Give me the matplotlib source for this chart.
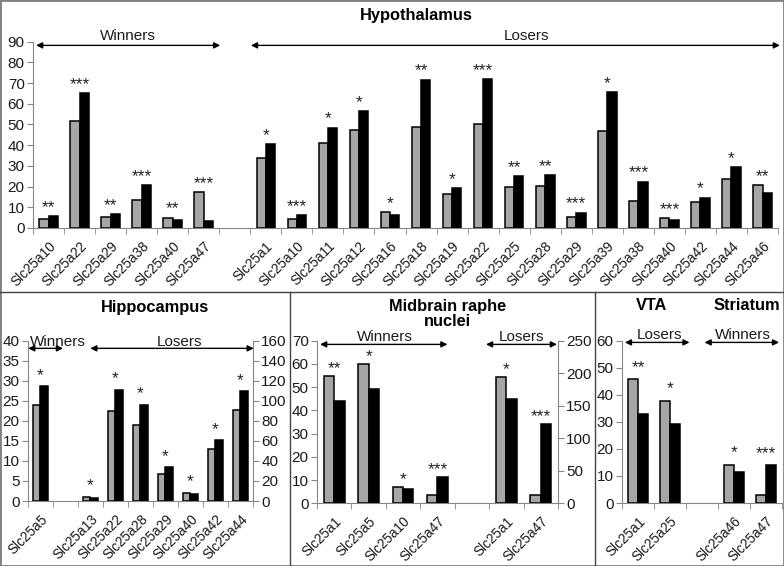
import matplotlib
matplotlib.use("Agg")
import matplotlib.pyplot as plt
from matplotlib.patches import Rectangle
from matplotlib.lines import Line2D
from matplotlib.transforms import ScaledTranslation

plt.rcParams['font.family'] = ['Liberation Sans', 'DejaVu Sans']

GRAY = "#a6a6a6"
AXIS = "#868686"
BAR_W = 0.3

# ---- Hypothalamus ----
hyp_win_genes = ["Slc25a10", "Slc25a22", "Slc25a29", "Slc25a38", "Slc25a40", "Slc25a47"]
hyp_win_gray  = [4.5, 51.6, 5.3, 13.5, 5.0, 17.4]
hyp_win_black = [5.6, 65.3, 6.6, 20.8, 3.9, 3.2]
hyp_win_sig   = ["**", "***", "**", "***", "**", "***"]

hyp_los_genes = ["Slc25a1", "Slc25a10", "Slc25a11", "Slc25a12", "Slc25a16", "Slc25a18",
                 "Slc25a19", "Slc25a22", "Slc25a25", "Slc25a28", "Slc25a29", "Slc25a39",
                 "Slc25a38", "Slc25a40", "Slc25a42", "Slc25a44", "Slc25a46"]
hyp_los_gray  = [33.9, 4.5, 41.0, 47.4, 7.6, 49.0, 16.3, 50.3, 20.0, 20.3, 5.2, 46.9,
                 13.2, 4.7, 12.7, 23.9, 20.8]
hyp_los_black = [40.6, 6.3, 48.4, 56.3, 6.5, 71.6, 19.2, 72.0, 25.2, 25.6, 7.4, 65.5,
                 22.4, 3.7, 14.7, 29.4, 16.8]
hyp_los_sig   = ["*", "***", "*", "*", "*", "**", "*", "***", "**", "**", "***", "*",
                 "***", "***", "*", "*", "**"]

# ---- Hippocampus (winners on left axis, losers on right axis) ----
hip_win_genes = ["Slc25a5"]
hip_win_gray  = [23.9]
hip_win_black = [28.7]
hip_win_sig   = ["*"]

hip_los_genes = ["Slc25a13", "Slc25a22", "Slc25a28", "Slc25a29", "Slc25a40", "Slc25a42", "Slc25a44"]
hip_los_gray  = [4.3, 89.8, 76.0, 26.6, 8.3, 51.5, 90.4]
hip_los_black = [2.7, 111.0, 96.0, 34.0, 6.7, 60.8, 109.7]
hip_los_sig   = ["*", "*", "*", "*", "*", "*", "*"]

# ---- Midbrain raphe nuclei (winners left axis, losers right axis) ----
mid_win_genes = ["Slc25a1", "Slc25a5", "Slc25a10", "Slc25a47"]
mid_win_gray  = [54.9, 60.1, 7.0, 3.6]
mid_win_black = [44.2, 49.4, 6.0, 11.3]
mid_win_sig   = ["**", "*", "*", "***"]

mid_los_genes = ["Slc25a1", "Slc25a47"]
mid_los_gray  = [194.0, 12.8]
mid_los_black = [160.0, 121.4]
mid_los_sig   = ["*", "***"]

# ---- VTA (losers) and Striatum (winners) ----
vta_genes = ["Slc25a1", "Slc25a25"]
vta_gray  = [45.7, 37.9]
vta_black = [32.8, 29.2]
vta_sig   = ["**", "*"]

str_genes = ["Slc25a46", "Slc25a47"]
str_gray  = [14.1, 3.1]
str_black = [11.3, 13.9]
str_sig   = ["*", "***"]


def draw_bars(ax, x0, gray, black, sig, star_off):
    xs = list(range(x0, x0 + len(gray)))
    ax.bar([x - BAR_W / 2 for x in xs], gray, BAR_W, color=GRAY,
           edgecolor="black", linewidth=1.1, zorder=3)
    ax.bar([x + BAR_W / 2 for x in xs], black, BAR_W, color="black",
           edgecolor="black", linewidth=1.1, zorder=3)
    for x, g, b, s in zip(xs, gray, black, sig):
        ax.annotate(s, (x, max(g, b)), xytext=(0, star_off), textcoords="offset points",
                    ha="center", va="baseline", fontsize=12.5, color="#222222",
                    annotation_clip=False)


def style_axis(ax, labels, ymax, step):
    n = len(labels)
    ax.set_xlim(-0.5, n - 0.5)
    ax.set_ylim(0, ymax)
    ax.set_yticks(range(0, ymax + 1, step))
    for side in ("top", "right"):
        ax.spines[side].set_visible(False)
    for side in ("left", "bottom"):
        ax.spines[side].set_color(AXIS)
    ax.set_xticks(range(n))
    ax.set_xticklabels(labels, rotation=45, ha="right", va="top",
                       rotation_mode="anchor", fontsize=9.8, color="#1a1a1a")
    shift = ScaledTranslation(3 / 72, 0, ax.figure.dpi_scale_trans)
    for lab in ax.get_xticklabels():
        lab.set_transform(lab.get_transform() + shift)
    ax.set_xticks([i - 0.5 for i in range(n + 1)], minor=True)
    ax.tick_params(axis="x", which="major", length=0, pad=8)
    ax.tick_params(axis="x", which="minor", length=4, color=AXIS)
    ax.tick_params(axis="y", length=4, color=AXIS, labelsize=11,
                   labelcolor="#1a1a1a", pad=2)


def right_axis(ax, ymax, step):
    tw = ax.twinx()
    tw.set_ylim(0, ymax)
    tw.set_yticks(range(0, ymax + 1, step))
    for side in ("top", "left", "bottom"):
        tw.spines[side].set_visible(False)
    tw.spines["right"].set_color(AXIS)
    tw.tick_params(axis="y", length=4, color=AXIS, labelsize=11,
                   labelcolor="#1a1a1a", pad=2)
    return tw


def arrow(ax, x0, x1, y, text, tx, ty):
    ax.annotate("", xy=(x1, y), xytext=(x0, y), annotation_clip=False,
                arrowprops=dict(arrowstyle="<|-|>", color="black", lw=1,
                                mutation_scale=9, shrinkA=0, shrinkB=0))
    ax.text(tx, ty, text, ha="center", va="bottom", fontsize=11, color="#1a1a1a")


fig = plt.figure(figsize=(7.84, 5.66), dpi=100)

# Top: Hypothalamus
ax = fig.add_axes([0.0421, 0.5972, 0.9503, 0.3292])
n_win = len(hyp_win_genes)
labels = hyp_win_genes + [""] + hyp_los_genes
draw_bars(ax, 0, hyp_win_gray, hyp_win_black, hyp_win_sig, 3)
draw_bars(ax, n_win + 1, hyp_los_gray, hyp_los_black, hyp_los_sig, 3)
style_axis(ax, labels, 90, 10)
arrow(ax, -0.4, 5.53, 88.2, "Winners", 2.57, 89.3)
arrow(ax, 6.52, 23.56, 88.2, "Losers", 15.4, 89.3)
fig.text(0.531, 0.972, "Hypothalamus", ha="center", va="center",
         fontsize=11.8, fontweight="bold")

# Hippocampus
ax = fig.add_axes([0.0357, 0.1148, 0.287, 0.2832])
labels = hip_win_genes + [""] + hip_los_genes
draw_bars(ax, 0, hip_win_gray, hip_win_black, hip_win_sig, 4.5)
style_axis(ax, labels, 40, 5)
tw = right_axis(ax, 160, 20)
draw_bars(tw, len(hip_win_genes) + 1, hip_los_gray, hip_los_black, hip_los_sig, 4.5)
arrow(ax, -0.49, 0.9, 38.1, "Winners", 0.71, 37.9)
arrow(ax, 1.99, 8.53, 38.1, "Losers", 5.57, 37.9)
fig.text(0.198, 0.456, "Hippocampus", ha="center", va="center",
         fontsize=11.8, fontweight="bold")

# Midbrain raphe nuclei
ax = fig.add_axes([0.4043, 0.1108, 0.3074, 0.2873])
labels = mid_win_genes + [""] + mid_los_genes
draw_bars(ax, 0, mid_win_gray, mid_win_black, mid_win_sig, 2)
style_axis(ax, labels, 70, 10)
tw = right_axis(ax, 250, 50)
draw_bars(tw, len(mid_win_genes) + 1, mid_los_gray, mid_los_black, mid_los_sig, 2)
arrow(ax, -0.41, 3.29, 68.4, "Winners", 1.48, 68.6)
arrow(ax, 4.41, 6.47, 68.4, "Losers", 5.45, 68.6)
fig.text(0.571, 0.445, "Midbrain raphe\nnuclei", ha="center", va="center",
         fontsize=11.8, fontweight="bold", linespacing=1.0)

# VTA / Striatum
ax = fig.add_axes([0.7934, 0.1113, 0.204, 0.2866])
labels = vta_genes + [""] + str_genes
draw_bars(ax, 0, vta_gray, vta_black, vta_sig, 5.5)
draw_bars(ax, len(vta_genes) + 1, str_gray, str_black, str_sig, 5.5)
style_axis(ax, labels, 60, 10)
arrow(ax, -0.41, 1.61, 59.4, "Losers", 0.66, 59.6)
arrow(ax, 2.08, 4.41, 59.4, "Winners", 3.27, 59.6)
fig.text(0.831, 0.461, "VTA", ha="center", va="center", fontsize=11.8, fontweight="bold")
fig.text(0.952, 0.461, "Striatum", ha="center", va="center", fontsize=11.8, fontweight="bold")

# panel frames
fig.add_artist(Rectangle((0, 0), 1, 1, transform=fig.transFigure, fill=False,
                         edgecolor="#808080", linewidth=2))
fig.add_artist(Line2D([0, 1], [0.4845, 0.4845], transform=fig.transFigure,
                      color="#444444", linewidth=1))
for xf in (0.370, 0.759):
    fig.add_artist(Line2D([xf, xf], [0, 0.4845], transform=fig.transFigure,
                          color="#444444", linewidth=1))

fig.savefig("out.png", dpi=100)
